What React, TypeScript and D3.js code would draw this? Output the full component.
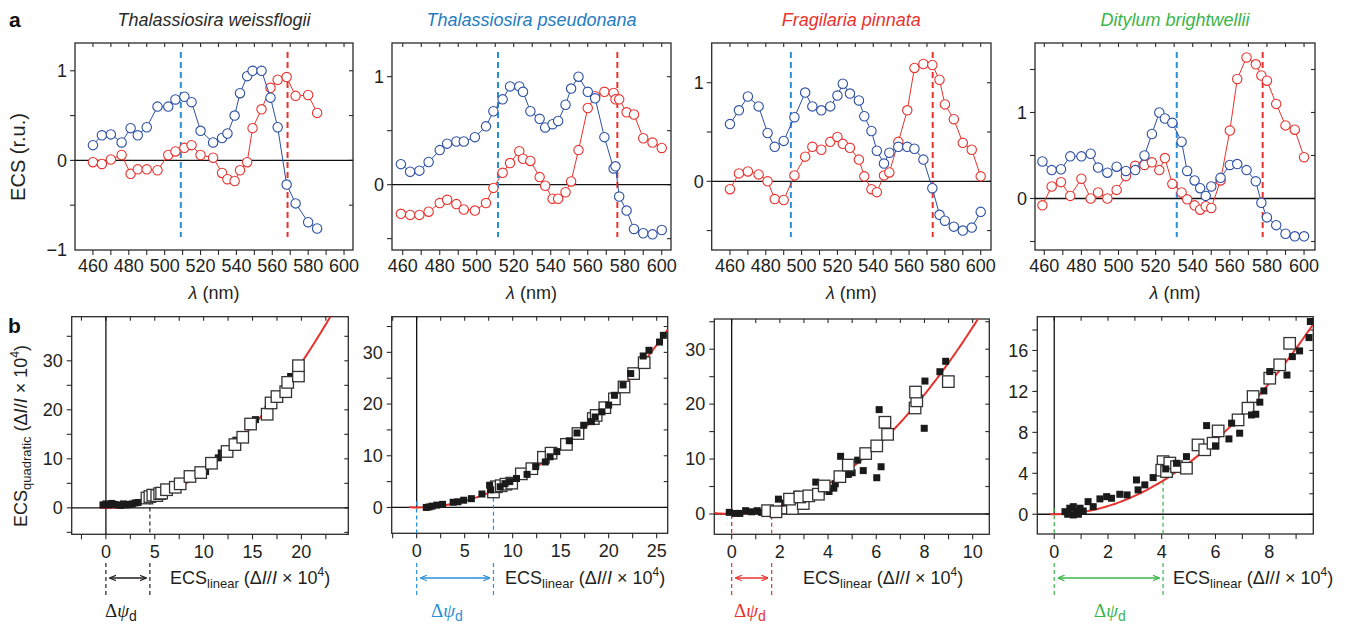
import React from 'react';
import * as d3 from 'd3';

// ---------------- DATA ----------------
// Panel a: ECS spectra (wavelength nm, ECS r.u.)
const twWl = [460, 465, 470, 476, 481, 485, 490, 496, 502, 506, 511, 515, 520, 527, 532, 535, 539, 542, 546, 549, 554, 559, 563, 568, 573, 580, 585];
const twBlue = [0.17, 0.28, 0.29, 0.2, 0.36, 0.28, 0.37, 0.6, 0.6, 0.68, 0.71, 0.65, 0.33, 0.2, 0.25, 0.3, 0.5, 0.75, 0.94, 1.0, 1.0, 0.7, 0.37, -0.27, -0.48, -0.69, -0.76];
const twRed = [-0.02, -0.04, 0.01, 0.06, -0.15, -0.1, -0.1, -0.11, 0.06, 0.1, 0.14, 0.17, 0.06, 0.03, -0.14, -0.21, -0.23, -0.11, -0.02, 0.36, 0.57, 0.81, 0.9, 0.93, 0.72, 0.73, 0.53];

const tpWl = [459, 464, 469, 474, 480, 484, 489, 493, 499, 505, 509, 514, 518, 523, 525, 529, 534, 537, 541, 544, 548, 551, 555, 560, 564, 569, 574, 575, 577, 581, 585, 590, 595, 600];
const tpBlue = [0.19, 0.12, 0.13, 0.21, 0.32, 0.38, 0.4, 0.4, 0.44, 0.54, 0.68, 0.79, 0.91, 0.91, 0.86, 0.68, 0.61, 0.53, 0.56, 0.59, 0.74, 0.89, 1.0, 0.86, 0.8, 0.44, 0.15, 0.17, -0.11, -0.24, -0.41, -0.45, -0.46, -0.42];
const tpRed = [-0.27, -0.28, -0.28, -0.25, -0.17, -0.14, -0.18, -0.23, -0.24, -0.17, -0.03, 0.11, 0.2, 0.31, 0.24, 0.22, 0.07, -0.01, -0.13, -0.13, -0.07, 0.03, 0.32, 0.71, 0.82, 0.86, 0.85, 0.79, 0.79, 0.67, 0.65, 0.43, 0.39, 0.34];

const fpWl = [460, 465, 470, 476, 481, 485, 490, 496, 502, 506, 511, 516, 520, 523, 527, 532, 535, 539, 542, 546, 549, 554, 559, 563, 568, 573, 577, 580, 585, 590, 595, 600];
const fpBlue = [0.58, 0.72, 0.86, 0.76, 0.49, 0.35, 0.41, 0.65, 0.9, 0.76, 0.72, 0.76, 0.87, 0.99, 0.89, 0.82, 0.66, 0.51, 0.31, 0.18, 0.29, 0.35, 0.35, 0.33, 0.22, -0.07, -0.34, -0.4, -0.46, -0.5, -0.47, -0.31];
const fpRed = [-0.08, 0.08, 0.1, 0.07, 0.0, -0.18, -0.19, 0.06, 0.25, 0.35, 0.32, 0.4, 0.45, 0.38, 0.34, 0.22, 0.05, -0.08, -0.11, 0.06, 0.09, 0.4, 0.72, 1.15, 1.19, 1.18, 1.03, 0.78, 0.63, 0.39, 0.32, 0.05];

const dbWl = [459, 464, 469, 474, 480, 485, 489, 494, 499, 504, 509, 514, 518, 522, 525, 529, 534, 537, 541, 544, 547, 550, 555, 560, 564, 569, 574, 577, 580, 585, 590, 595, 600];
const dbBlue = [0.43, 0.33, 0.34, 0.49, 0.49, 0.52, 0.36, 0.3, 0.37, 0.32, 0.33, 0.5, 0.75, 1.0, 0.93, 0.88, 0.66, 0.32, 0.21, 0.12, 0.03, 0.14, 0.24, 0.39, 0.4, 0.33, 0.2, -0.05, -0.22, -0.31, -0.41, -0.44, -0.44];
const dbRed = [-0.08, 0.14, 0.19, 0.03, 0.23, 0.0, 0.07, 0.0, 0.1, 0.26, 0.38, 0.39, 0.42, 0.33, 0.47, 0.17, 0.07, -0.01, -0.08, -0.13, -0.09, -0.11, 0.21, 0.79, 1.39, 1.64, 1.56, 1.43, 1.37, 1.1, 0.85, 0.8, 0.48];

// dashed marker wavelengths [blue, red]
const twMarks = [509, 568.5];
const tpMarks = [511.5, 576];
const fpMarks = [494, 573.2];
const dbMarks = [531.4, 577.7];

const speciesNames = ['Thalassiosira weissflogii', 'Thalassiosira pseudonana', 'Fragilaria pinnata', 'Ditylum brightwellii'];

// Panel b: ECS_linear vs ECS_quadratic  [x, y]
const twFilled = [[-0.3, 0.6], [0, 0.8], [0.3, 0.6], [0.6, 0.9], [0.9, 0.7], [1.2, 0.6], [1.5, 0.5], [1.8, 0.8], [2.1, 0.6], [2.4, 0.7], [2.7, 0.8], [3.0, 1.0], [3.3, 1.1], [5.6, 3.0], [7.2, 4.6], [10.2, 7.4], [11.5, 10.2], [11.8, 11.2], [13.3, 13.8], [15.3, 18.0], [16.6, 20.2], [18.9, 26.8]];
const twOpen = [[4.2, 2.0], [4.5, 2.3], [4.8, 2.6], [5.2, 2.5], [5.5, 2.9], [5.7, 3.0], [6.2, 3.7], [7.1, 4.2], [7.6, 4.9], [8.6, 6.4], [9.7, 7.2], [10.8, 9.1], [12.4, 11.5], [13.2, 12.9], [14.0, 14.4], [14.8, 17.1], [16.5, 19.1], [16.9, 21.4], [17.5, 22.7], [18.4, 23.7], [18.6, 25.6], [19.7, 26.9], [19.7, 29.0]];

const tpFilled = [[1.0, 0.0], [1.3, 0.1], [1.6, 0.25], [2.1, 0.45], [2.7, 0.6], [3.8, 1.0], [4.3, 1.1], [4.9, 1.4], [5.7, 1.7], [6.8, 2.6], [7.7, 3.4], [7.6, 4.3], [8.7, 4.0], [9.2, 4.6], [9.7, 5.0], [10.4, 5.6], [11.5, 6.4], [12.4, 7.9], [13.4, 8.8], [13.9, 9.8], [14.6, 10.8], [15.9, 12.9], [16.7, 14.4], [17.4, 15.9], [18.2, 16.6], [18.6, 17.5], [19.3, 18.5], [20.0, 19.8], [20.6, 21.7], [21.5, 23.7], [22.3, 25.9], [23.6, 29.3], [24.2, 30.4], [25.3, 32.0], [25.7, 33.3]];
const tpOpen = [[8.0, 3.0], [8.3, 4.0], [8.8, 4.2], [9.3, 4.5], [9.9, 4.7], [10.9, 6.5], [12.0, 7.5], [13.2, 9.7], [14.0, 10.5], [15.6, 12.2], [16.8, 14.3], [18.4, 17.2], [18.7, 17.8], [19.6, 19.3], [20.6, 21.0], [21.6, 23.3], [22.6, 25.9], [23.7, 28.0]];

const fpFilled = [[-0.1, 0.3], [0.14, 0.1], [0.34, 0.1], [0.58, 0.6], [0.83, 0.4], [1.06, 0.6], [1.24, 0.3], [1.94, 2.7], [2.2, 2.0], [2.7, 3.6], [3.2, 3.0], [3.49, 5.8], [3.73, 4.1], [4.04, 4.1], [4.24, 4.7], [4.3, 5.5], [4.52, 10.5], [4.84, 7.2], [5.0, 7.5], [5.23, 9.8], [5.46, 7.9], [6.02, 6.6], [6.2, 8.6], [6.12, 19.0], [7.99, 15.6], [8.02, 24.2], [8.64, 25.9], [8.88, 27.8]];
const fpOpen = [[1.49, 0.6], [1.84, 0.4], [2.52, 1.0], [2.97, 1.9], [2.4, 2.7], [2.83, 3.1], [3.2, 3.3], [3.6, 3.6], [3.84, 5.1], [4.49, 6.8], [4.84, 8.9], [5.56, 11.0], [6.02, 12.4], [6.47, 14.5], [6.36, 16.7], [7.61, 19.3], [7.68, 20.6], [7.63, 22.2], [8.99, 24.1]];

const dbFilled = [[0.4, 0.25], [0.58, 0.59], [0.71, 0.74], [0.83, 0.25], [0.96, 0.59], [1.08, 0.32], [0.71, -0.07], [0.5, 0.0], [0.9, 0.0], [1.26, 1.23], [1.45, 0.74], [1.7, 1.5], [1.95, 1.72], [2.13, 1.56], [2.44, 1.95], [2.71, 1.89], [3.06, 3.35], [3.12, 2.38], [3.37, 2.87], [3.68, 3.58], [4.15, 4.43], [4.55, 4.98], [4.92, 5.63], [5.67, 8.66], [6.0, 6.68], [6.5, 7.36], [6.9, 7.92], [6.6, 8.9], [7.34, 9.7], [7.5, 9.77], [7.65, 10.95], [7.8, 12.05], [8.02, 13.94], [8.66, 13.6], [8.86, 15.4], [9.13, 15.96], [9.48, 17.26], [9.53, 18.83]];
const dbOpen = [[4.05, 5.14], [4.0, 4.3], [4.18, 4.17], [4.3, 5.0], [4.55, 4.65], [4.92, 4.5], [5.35, 6.77], [5.6, 6.3], [5.91, 6.94], [6.1, 8.14], [6.84, 9.22], [7.21, 10.36], [7.4, 11.5], [8.02, 13.29], [8.39, 14.6], [8.76, 16.7]];

// quadratic fit coefficients and membrane potential offsets
const fitK = [0.074, 0.0503, 0.34, 0.2];
const fitStart = [-0.6, -0.8, -0.72, -0.15];
const deltaPsi = [4.5, 8.0, 1.66, 4.05];

// tick labels
const topXTicks = [460, 480, 500, 520, 540, 560, 580, 600];
const topYTicksA1 = [-1, 0, 1];
const topYTicks = [0, 1];
const bXTicks = [[0, 5, 10, 15, 20], [0, 5, 10, 15, 20, 25], [0, 2, 4, 6, 8, 10], [0, 2, 4, 6, 8]];
const bYTicks = [[0, 10, 20, 30], [0, 10, 20, 30], [0, 10, 20, 30], [0, 4, 8, 12, 16]];

// ---------------- STYLE / LAYOUT ----------------
const FONT = '"Liberation Sans", Arial, Helvetica, sans-serif';
const TXT = '#231f20';
const AX = '#2a2a2a';
const BLUE = '#2c4fa3';
const RED = '#e8322e';
const DBLUE = '#2a8fd4';
const titleColors = ['#2a2a2a', '#1f7cc1', '#e8322e', '#3bb54a'];
const psiColors = ['#231f20', '#2a8fd4', '#e8322e', '#3bb54a'];

const topCfg = [
  { l: 75, r: 353, t: 43, b: 250, xd: [450, 605], yd: [-1, 1.31], wl: twWl, blue: twBlue, red: twRed, marks: twMarks, yt: topYTicksA1 },
  { l: 392, r: 671, t: 43, b: 250, xd: [454.2, 605], yd: [-0.605, 1.312], wl: tpWl, blue: tpBlue, red: tpRed, marks: tpMarks, yt: topYTicks },
  { l: 711.7, r: 991, t: 43, b: 250, xd: [449.8, 605.75], yd: [-0.697, 1.403], wl: fpWl, blue: fpBlue, red: fpRed, marks: fpMarks, yt: topYTicks },
  { l: 1035, r: 1315, t: 43, b: 250, xd: [455, 605.9], yd: [-0.599, 1.808], wl: dbWl, blue: dbBlue, red: dbRed, marks: dbMarks, yt: topYTicks },
];

const botCfg = [
  { l: 71.7, r: 348.3, t: 316.7, b: 534.3, xd: [-3.5, 24.8], yd: [-5.4, 39], xm: 2.5, ym: 5, filled: twFilled, open: twOpen, openTop: true, labX: 170, psiX: 121 },
  { l: 391.7, r: 667.7, t: 316.7, b: 533.3, xd: [-2.6, 26.15], yd: [-5.0, 36.9], xm: 2.5, ym: 5, filled: tpFilled, open: tpOpen, openTop: false, labX: 505, psiX: 447 },
  { l: 714.3, r: 989.3, t: 319, b: 534.3, xd: [-0.72, 10.69], yd: [-3.7, 35.5], xm: 1, ym: 5, filled: fpFilled, open: fpOpen, openTop: true, labX: 803, psiX: 750 },
  { l: 1037.3, r: 1313.3, t: 316.7, b: 534, xd: [-0.63, 9.64], yd: [-1.93, 19.3], xm: 1, ym: 2, filled: dbFilled, open: dbOpen, openTop: false, labX: 1173, psiX: 1110 },
];

function fmt(v: number) {
  return v < 0 ? '\u2212' + Math.abs(v) : String(v);
}

function Frame({ l, r, t, b, xs, ys, xTicks, yTicks }: any) {
  const tl = 5;
  const xIn = xTicks.filter((v: number) => xs(v) > l + 0.5 && xs(v) < r - 0.5);
  const yIn = yTicks.filter((v: number) => ys(v) > t + 0.5 && ys(v) < b - 0.5);
  return (
    <g stroke={AX} strokeWidth={1.1}>
      <rect x={l} y={t} width={r - l} height={b - t} fill="none" strokeWidth={1.3} />
      {xIn.map((v: number, i: number) => (
        <g key={'x' + i}>
          <line x1={xs(v)} x2={xs(v)} y1={b} y2={b + tl} />
          <line x1={xs(v)} x2={xs(v)} y1={t} y2={t + tl - 1} />
        </g>
      ))}
      {yIn.map((v: number, i: number) => (
        <g key={'y' + i}>
          <line x1={l - tl} x2={l} y1={ys(v)} y2={ys(v)} />
          <line x1={r - tl + 1} x2={r} y1={ys(v)} y2={ys(v)} />
        </g>
      ))}
    </g>
  );
}

function TopPanel({ cfg, idx }: any) {
  const xs = d3.scaleLinear().domain(cfg.xd).range([cfg.l, cfg.r]);
  const ys = d3.scaleLinear().domain(cfg.yd).range([cfg.b, cfg.t]);
  const blue = cfg.wl.map((w: number, i: number) => [w, cfg.blue[i]]);
  const red = cfg.wl.map((w: number, i: number) => [w, cfg.red[i]]);
  const line = d3.line<number[]>().x((d) => xs(d[0])).y((d) => ys(d[1]));
  const xMinor = d3.range(450, 606, 10);
  const yMinor = d3.range(-1, 2.01, 0.5);
  const cx = (cfg.l + cfg.r) / 2;
  return (
    <g>
      <text x={cx} y={26} textAnchor="middle" fontStyle="italic" fontSize={18} fill={titleColors[idx]} fontFamily={FONT}>
        {speciesNames[idx]}
      </text>
      <Frame l={cfg.l} r={cfg.r} t={cfg.t} b={cfg.b} xs={xs} ys={ys} xTicks={xMinor} yTicks={yMinor} />
      <line x1={cfg.l} x2={cfg.r} y1={ys(0)} y2={ys(0)} stroke="#111" strokeWidth={1.3} />
      <line x1={xs(cfg.marks[0])} x2={xs(cfg.marks[0])} y1={cfg.t + 9} y2={cfg.b - 13} stroke={DBLUE} strokeWidth={2} strokeDasharray="6,4" />
      <line x1={xs(cfg.marks[1])} x2={xs(cfg.marks[1])} y1={cfg.t + 9} y2={cfg.b - 13} stroke={RED} strokeWidth={2} strokeDasharray="6,4" />
      <path d={line(red) || ''} fill="none" stroke={RED} strokeWidth={1} />
      {red.map((d: number[], i: number) => (
        <circle key={'r' + i} cx={xs(d[0])} cy={ys(d[1])} r={4.7} fill="#fff" stroke={RED} strokeWidth={1.1} />
      ))}
      <path d={line(blue) || ''} fill="none" stroke={BLUE} strokeWidth={1} />
      {blue.map((d: number[], i: number) => (
        <circle key={'b' + i} cx={xs(d[0])} cy={ys(d[1])} r={4.7} fill="#fff" stroke={BLUE} strokeWidth={1.1} />
      ))}
      <g fontFamily={FONT} fontSize={18} fill={TXT}>
        {topXTicks.map((v) => (
          <text key={v} x={xs(v)} y={cfg.b + 21.5} textAnchor="middle">{v}</text>
        ))}
        {cfg.yt.map((v: number) => (
          <text key={v} x={cfg.l - 8} y={ys(v) + 6.3} textAnchor="end">{fmt(v)}</text>
        ))}
        <text x={cx} y={299} textAnchor="middle">
          <tspan fontStyle="italic">λ</tspan> (nm)
        </text>
      </g>
    </g>
  );
}

function BottomPanel({ cfg, idx }: any) {
  const xs = d3.scaleLinear().domain(cfg.xd).range([cfg.l, cfg.r]);
  const ys = d3.scaleLinear().domain(cfg.yd).range([cfg.b, cfg.t]);
  const k = fitK[idx];
  const xEnd = Math.min(cfg.xd[1], Math.sqrt(cfg.yd[1] / k));
  const curvePts = d3.range(fitStart[idx], xEnd, (xEnd - fitStart[idx]) / 120).concat([xEnd]).map((x) => [x, k * x * x]);
  const line = d3.line<number[]>().x((d) => xs(d[0])).y((d) => ys(d[1]));
  const xMinor = d3.range(Math.ceil(cfg.xd[0] / cfg.xm) * cfg.xm, cfg.xd[1], cfg.xm);
  const yMinor = d3.range(Math.ceil(cfg.yd[0] / cfg.ym) * cfg.ym, cfg.yd[1], cfg.ym);
  const col = psiColors[idx];
  const dp = deltaPsi[idx];
  const x0 = xs(0);
  const x1 = xs(dp);
  const fs = 7;
  const os = 11.5;
  const filledEls = cfg.filled.map((d: number[], i: number) => (
    <rect key={'f' + i} x={xs(d[0]) - fs / 2} y={ys(d[1]) - fs / 2} width={fs} height={fs} fill="#1a1a1a" />
  ));
  const openEls = cfg.open.map((d: number[], i: number) => (
    <rect key={'o' + i} x={xs(d[0]) - os / 2} y={ys(d[1]) - os / 2} width={os} height={os} fill="#fff" stroke="#333" strokeWidth={1.3} />
  ));
  const colored = idx !== 0;
  return (
    <g>
      <defs>
        <clipPath id={'clipb' + idx}>
          <rect x={cfg.l} y={cfg.t} width={cfg.r - cfg.l} height={cfg.b - cfg.t} />
        </clipPath>
        <marker id={'ah' + idx} viewBox="0 0 10 10" refX={9} refY={5} markerWidth={7} markerHeight={7} orient="auto-start-reverse" markerUnits="userSpaceOnUse">
          <path d="M0,1 L10,5 L0,9" fill="none" stroke={col} strokeWidth={1.6} />
        </marker>
      </defs>
      <Frame l={cfg.l} r={cfg.r} t={cfg.t} b={cfg.b} xs={xs} ys={ys} xTicks={xMinor} yTicks={yMinor} />
      <line x1={cfg.l} x2={cfg.r} y1={ys(0)} y2={ys(0)} stroke="#111" strokeWidth={1.3} />
      <line x1={x0} x2={x0} y1={cfg.t} y2={colored ? ys(0) : cfg.b} stroke="#111" strokeWidth={1.3} />
      {colored && <line x1={x0} x2={x0} y1={ys(0) - 6} y2={cfg.b} stroke={col} strokeWidth={1.3} strokeDasharray="4,3" />}
      <line x1={x1} x2={x1} y1={ys(k * dp * dp)} y2={cfg.b} stroke={col} strokeWidth={1.2} strokeDasharray="4,3" />
      <g clipPath={`url(#clipb${idx})`}>
        <path d={line(curvePts) || ''} fill="none" stroke={RED} strokeWidth={2} />
        {cfg.openTop ? filledEls : openEls}
        {cfg.openTop ? openEls : filledEls}
      </g>
      <line x1={x0} x2={x0} y1={563} y2={598} stroke={col} strokeWidth={1.2} strokeDasharray="4,3" />
      <line x1={x1} x2={x1} y1={563} y2={598} stroke={col} strokeWidth={1.2} strokeDasharray="4,3" />
      <line x1={x0 + 4} x2={x1 - 4} y1={578} y2={578} stroke={col} strokeWidth={1.3} markerStart={`url(#ah${idx})`} markerEnd={`url(#ah${idx})`} />
      <g fontFamily={FONT} fontSize={18} fill={TXT}>
        {bXTicks[idx].map((v) => (
          <text key={v} x={xs(v)} y={cfg.b + 24} textAnchor="middle">{fmt(v)}</text>
        ))}
        {bYTicks[idx].map((v) => (
          <text key={v} x={cfg.l - 9} y={ys(v) + 6.3} textAnchor="end">{fmt(v)}</text>
        ))}
        <text x={cfg.labX} y={584}>
          ECS<tspan fontSize={13} dy={4}>linear</tspan>
          <tspan dy={-4}> (Δ</tspan><tspan fontStyle="italic">I</tspan>/<tspan fontStyle="italic">I</tspan> × 10<tspan fontSize={12} dy={-8}>4</tspan><tspan dy={8}>)</tspan>
        </text>
      </g>
      <text x={cfg.psiX} y={617} textAnchor="middle" fill={col} fontSize={19} fontFamily={'"Liberation Serif", "DejaVu Serif", serif'}>
        Δ<tspan fontStyle="italic">ψ</tspan><tspan fontFamily={FONT} fontSize={14} dy={4}>d</tspan>
      </text>
    </g>
  );
}

export default function App() {
  return (
    <svg width={1345} height={627} style={{ position: 'absolute', left: 0, top: 0, background: '#fff' }} xmlns="http://www.w3.org/2000/svg">
      <rect x={0} y={0} width={1345} height={627} fill="#fff" />
      <text x={9} y={27} fontFamily={FONT} fontWeight="bold" fontSize={21} fill="#111">a</text>
      <text x={8} y={333} fontFamily={FONT} fontWeight="bold" fontSize={21} fill="#111">b</text>
      <text transform="translate(25,157) rotate(-90)" textAnchor="middle" fontFamily={FONT} fontSize={20} fill={TXT}>ECS (r.u.)</text>
      <text transform="translate(27,436) rotate(-90)" textAnchor="middle" fontFamily={FONT} fontSize={18} fill={TXT}>
        ECS<tspan fontSize={13} dy={4}>quadratic</tspan><tspan dy={-4}> (Δ</tspan><tspan fontStyle="italic">I</tspan>/<tspan fontStyle="italic">I</tspan> × 10<tspan fontSize={12} dy={-8}>4</tspan><tspan dy={8}>)</tspan>
      </text>
      {topCfg.map((c, i) => <TopPanel key={'t' + i} cfg={c} idx={i} />)}
      {botCfg.map((c, i) => <BottomPanel key={'b' + i} cfg={c} idx={i} />)}
    </svg>
  );
}
